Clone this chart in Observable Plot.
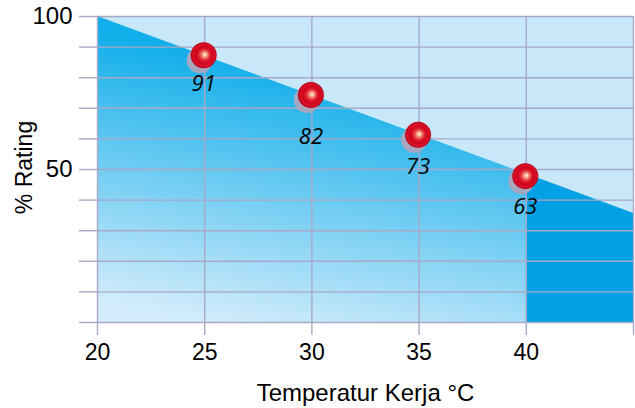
<!DOCTYPE html>
<html>
<head>
<meta charset="utf-8">
<script src="https://cdn.jsdelivr.net/npm/d3@7"></script>
<script src="https://cdn.jsdelivr.net/npm/@observablehq/plot@0.6"></script>
<style>
  html, body { margin: 0; padding: 0; background: #ffffff; }
  #chart { width: 635px; height: 408px; }
</style>
</head>
<body>
<div id="chart"></div>
<script>
// ---- data ----
const xTicks = [20, 25, 30, 35, 40, 45];
const xTickLabels = [20, 25, 30, 35, 40];
const yTicks = [0, 10, 20, 30, 40, 50, 60, 70, 80, 90, 100];
const yTickLabels = [50, 100];
const boundaryTemp = [20, 45];
const boundaryRating = [100, 35.6];
const pointTemp = [25, 30, 35, 40];
const pointRating = [87, 74, 61, 47.5];
const pointLabels = ["91", "82", "73", "63"];
const deratingStart = 40;

const lineData = boundaryTemp.map((t, i) => ({t, r: boundaryRating[i]}));
const points = pointTemp.map((t, i) => ({t, r: pointRating[i], label: pointLabels[i]}));

const gridColor = "#a9a8c6";
const labelDy = [28, 41, 31, 30];

const plot = Plot.plot({
  width: 635,
  height: 408,
  marginTop: 16,
  marginBottom: 86,
  marginLeft: 97,
  marginRight: 2,
  style: {fontFamily: "'Liberation Sans', Arial, sans-serif", fontSize: "22px", background: "transparent", overflow: "visible"},
  x: {domain: [20, 45]},
  y: {domain: [0, 100]},
  marks: [
    Plot.frame({fill: "#c8e7f9", stroke: null}),
    Plot.areaY(lineData, {x: "t", y: "r", fill: "url(#areaGrad)"}),
    Plot.areaY(lineData, {x: "t", y: "r", fill: "#02a0e4"}),
    Plot.gridX(xTicks, {stroke: gridColor, strokeOpacity: 1, strokeWidth: 1.4}),
    Plot.gridY(yTicks, {stroke: gridColor, strokeOpacity: 1, strokeWidth: 1.4}),
    Plot.axisX({ticks: xTicks, tickSize: 13, tickPadding: 8, stroke: gridColor, strokeWidth: 1.4, fill: "#000",
      fontSize: 23, tickFormat: d => xTickLabels.includes(d) ? String(d) : "", label: null}),
    Plot.axisY({ticks: yTicks, tickSize: 18, tickPadding: 7, stroke: gridColor, strokeWidth: 1.4, fill: "#000",
      fontSize: 24, tickFormat: d => yTickLabels.includes(d) ? String(d) : "", label: null}),
    Plot.text(["% Rating"], {frameAnchor: "left", textAnchor: "middle", dx: -73, dy: -2, rotate: -90, fontSize: 23, fill: "#000"}),
    Plot.text(["Temperatur Kerja °C"], {frameAnchor: "bottom", textAnchor: "middle", dy: 78, fontSize: 24, fill: "#000"}),
    Plot.dot(points, {x: "t", y: "r", r: 13, dx: -5, dy: 4, fill: "#a7a8c0", stroke: null}),
    Plot.dot(points, {x: "t", y: "r", r: 13, dx: -1, dy: -1, fill: "url(#dotGrad)", stroke: null}),
    ...points.map((p, i) => Plot.text([p], {x: "t", y: "r", text: "label", dy: labelDy[i], dx: -1,
      fontSize: 22, fontStyle: "italic", fontFamily: "'Open Sans', sans-serif", fill: "#000"}))
  ]
});

// defs: gradients and clip
const svg = d3.select(plot.tagName.toLowerCase() === "svg" ? plot : plot.querySelector("svg"));
const defs = svg.insert("defs", ":first-child");
const ag = defs.append("linearGradient").attr("id", "areaGrad")
  .attr("gradientUnits", "userSpaceOnUse")
  .attr("x1", 97).attr("y1", 300).attr("x2", 145).attr("y2", 40);
ag.append("stop").attr("offset", "0").attr("stop-color", "#d2ecfb");
ag.append("stop").attr("offset", "1").attr("stop-color", "#10aeea");

const rg = defs.append("radialGradient").attr("id", "dotGrad").attr("cx", "0.5").attr("cy", "0.5").attr("r", "0.5").attr("fx", "0.55").attr("fy", "0.47");
[["0", "#fff0e6"], ["0.14", "#f6b89c"], ["0.3", "#ea5a50"], ["0.5", "#dc1226"], ["0.7", "#cc0420"], ["0.82", "#e01428"], ["1", "#b00018"]]
  .forEach(([o, c]) => rg.append("stop").attr("offset", o).attr("stop-color", c));

let xs;
try { xs = plot.scale("x"); } catch (e) { xs = null; }
const xApply = xs && xs.apply ? xs.apply : d3.scaleLinear().domain([20, 45]).range([97, 633]);
const x40 = xApply(deratingStart), x45 = xApply(45);
defs.append("clipPath").attr("id", "derateClip").append("rect")
  .attr("x", x40).attr("y", 0).attr("width", x45 - x40 + 2).attr("height", 408);
const areas = svg.selectAll('g[aria-label="area"]').nodes();
if (areas[1]) d3.select(areas[1]).attr("clip-path", "url(#derateClip)");

document.getElementById("chart").appendChild(plot);
</script>
</body>
</html>
